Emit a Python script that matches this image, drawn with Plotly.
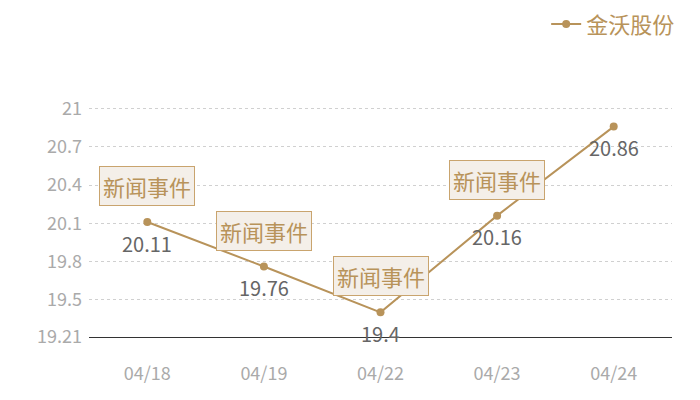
import plotly.graph_objects as go

# data
dates = ["04/18", "04/19", "04/22", "04/23", "04/24"]
prices = [20.11, 19.76, 19.4, 20.16, 20.86]
event_dates = ["04/18", "04/19", "04/22", "04/23"]
event_prices = [20.11, 19.76, 19.4, 20.16]
series_name = "金沃股份"
event_text = "新闻事件"

gold = "#b8935a"
font_cn = "Noto Sans CJK SC"

y_min = round(min(prices) * 0.99, 3)
y_max = round(max(prices) * 1.01, 3)
y_ticks = [19.21, 19.5, 19.8, 20.1, 20.4, 20.7, 21, y_max]
y_labels = ["19.21", "19.5", "19.8", "20.1", "20.4", "20.7", "21", ""]

fig = go.Figure()
fig.add_trace(go.Scatter(
    x=dates, y=prices, name=series_name,
    mode="lines+markers",
    line=dict(color=gold, width=2),
    marker=dict(color=gold, size=8),
    cliponaxis=False,
))

# value labels under the points
for d, p in zip(dates, prices):
    fig.add_annotation(
        x=d, y=p, text=str(p), showarrow=False, yshift=-21,
        font=dict(size=20, color="#666666", family=font_cn),
    )

# event boxes above the points
for d, p in zip(event_dates, event_prices):
    fig.add_annotation(
        x=d, y=p, text=event_text, showarrow=False, yshift=36,
        font=dict(size=22, color=gold, family=font_cn),
        bgcolor="#f4efe9", bordercolor="#c9a46e", borderwidth=1, borderpad=3,
    )

fig.update_xaxes(
    type="category", range=[-0.5, len(dates) - 0.5],
    showgrid=False, showline=True, linecolor="#333333",
    linewidth=1, ticks="", automargin=False, ticklabelstandoff=20,
    tickfont=dict(size=18, color="#aaaaaa", family=font_cn),
)
fig.update_yaxes(
    range=[y_min, y_max], tickvals=y_ticks, ticktext=y_labels,
    showgrid=True, gridcolor="#d0d0d0", griddash="dot", gridwidth=1,
    zeroline=False, showline=False, automargin=False, ticklabelstandoff=6,
    tickfont=dict(size=18, color="#aaaaaa", family=font_cn),
)
fig.update_layout(
    width=700, height=400,
    margin=dict(l=81, r=36, t=92, b=71, autoexpand=False),
    paper_bgcolor="white", plot_bgcolor="white",
    font=dict(family=font_cn),
    showlegend=True,
    legend=dict(x=1.014, xanchor="right", y=1.32, yanchor="middle",
                font=dict(size=22, color=gold, family=font_cn),
                bgcolor="rgba(0,0,0,0)", itemwidth=30),
)

fig.write_html("out.html")
